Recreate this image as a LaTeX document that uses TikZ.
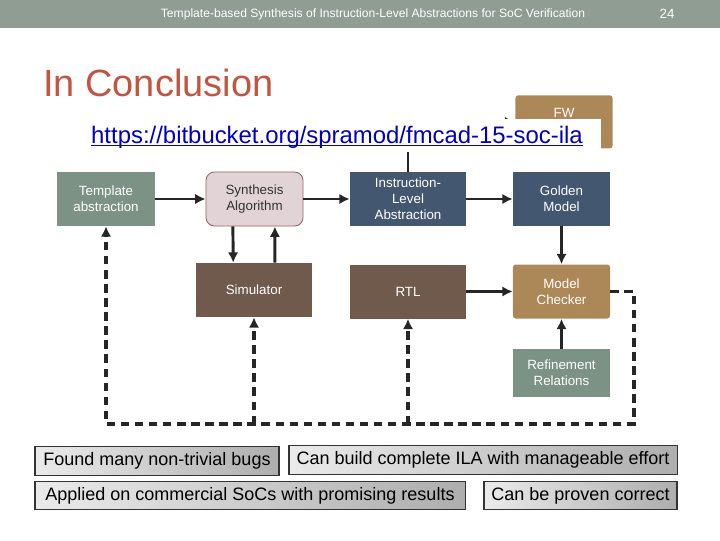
\documentclass[tikz,border=0pt]{standalone}
\usepackage{fontspec}
\setmainfont{Liberation Sans}
\usetikzlibrary{positioning, arrows.meta}

\definecolor{hdrgray}{RGB}{143,157,147}
\definecolor{titlered}{RGB}{196,84,64}
\definecolor{sagegreen}{RGB}{124,146,133}
\definecolor{slateblue}{RGB}{68,87,113}
\definecolor{umber}{RGB}{112,90,76}
\definecolor{tanbox}{RGB}{172,136,88}
\definecolor{blush}{RGB}{226,212,214}
\definecolor{linkblue}{RGB}{0,0,190}

\begin{document}
\begin{tikzpicture}[x=0.025cm, y=-0.025cm,
      blk/.style={rectangle, minimum width=2.425cm, minimum height=1.35cm,
                  align=center, inner sep=2pt, text=white,
                  font=\fontsize{9.5}{11.5}\selectfont},
      wideblk/.style={blk, minimum width=2.9cm},
      note/.style={rectangle, draw=black!80, line width=0.8pt,
                   left color=black!8, right color=black!32,
                   minimum height=0.71cm, inner sep=2pt,
                   font=\fontsize{12.8}{14}\selectfont},
      flow/.style={draw=black!85, line width=2.1pt,
                   -{Latex[length=2.6mm,width=2.6mm]}},
      fback/.style={draw=black!85, line width=2.3pt, dash pattern=on 6pt off 4pt,
                    -{Latex[length=2.6mm,width=2.6mm]}},
    ]
    \useasboundingbox (0,0) rectangle (720,540);

    % ---- header ----------------------------------------------------
    \fill[hdrgray] (0,0) rectangle (720,28);
    \node[text=white, font=\fontsize{8.6}{9}\selectfont] (hdr) at (373,14)
      {Template-based Synthesis of Instruction-Level Abstractions for SoC Verification};
    \node[text=white, font=\fontsize{9.5}{11}\selectfont] (pg) at (667,14) {24};
    \node[anchor=west, text=titlered, inner sep=0pt,
          font=\fontsize{27}{30}\selectfont] (title) at (43,83) {In Conclusion};

    % ---- top row ---------------------------------------------------
    \node[blk, fill=sagegreen] (tmpl) at (106,199) {Template\\abstraction};
    \node[blk, fill=blush, draw=black!70!red!60, line width=0.6pt,
          rounded corners=6pt, text=black!80] (synth) at (254.5,199)
      {Synthesis\\Algorithm};
    \node[wideblk, fill=slateblue] (ila) at (408,199)
      {Instruction-\\Level\\Abstraction};
    \node[blk, fill=slateblue] (gold) at (561.5,199) {Golden\\Model};

    % ---- second row ------------------------------------------------
    \node[wideblk, fill=umber] (sim) at (254,290) {Simulator};
    \node[wideblk, fill=umber] (rtl) at (408,291.5) {RTL};
    \node[blk, fill=tanbox, rounded corners=2pt] (mc) at (561.5,291.5)
      {Model\\Checker};
    \node[blk, fill=sagegreen, minimum height=1.2cm] (ref) at (561.5,373)
      {Refinement\\Relations};

    % ---- firmware, half hidden by the link -------------------------
    \node[blk, fill=tanbox, rounded corners=2pt, minimum height=1.33cm,
          anchor=north] (fw) at (564,95) {};
    \node[text=white, font=\fontsize{9.5}{11}\selectfont] (fwlab) at (564,113) {FW};
    \draw[flow] (ila.north) |- (fw.west);
    \node[fill=white, minimum width=12.9cm, minimum height=0.83cm,
          inner sep=0pt] (urlbox) at (343,135.5) {};
    \node[text=linkblue, inner sep=0pt, font=\fontsize{17}{19}\selectfont]
      (url) at (337,137) {https://bitbucket.org/spramod/fmcad-15-soc-ila};
    \draw[linkblue, line width=0.9pt] ([yshift=-1.6pt]url.base west)
      -- ([yshift=-1.6pt]url.base east);

    % ---- forward flow ----------------------------------------------
    \draw[flow] (tmpl) -- (synth);
    \draw[flow] (synth) -- (ila);
    \draw[flow] (ila) -- (gold);
    \draw[flow] ([xshift=-0.54cm]synth.south) -- ([xshift=-0.52cm]sim.north);
    \draw[flow] ([xshift=0.52cm]sim.north) -- ([xshift=0.51cm]synth.south);
    \draw[flow] (gold) -- (mc);
    \draw[flow] (rtl) -- (mc);
    \draw[flow] (ref) -- (mc);

    % ---- feedback loop ---------------------------------------------
    \coordinate (cr) at (634,424);
    \coordinate (cl) at (106,424);
    \draw[fback] (mc.east) -| (cr) -- (cl) -- (tmpl.south);
    \draw[fback] (sim.south |- cl) -- (sim.south);
    \draw[fback] (rtl.south |- cl) -- (rtl.south);

    % ---- results ---------------------------------------------------
    \node[note, minimum width=6.1cm] (bugs) at (157,461)
      {Found many non-trivial bugs};
    \node[note, minimum width=9.7cm] (effort) at (483,460)
      {Can build complete ILA with manageable effort};
    \node[note, minimum width=10.75cm] (socs) at (250,495.5)
      {Applied on commercial SoCs with promising results};
    \node[note, minimum width=4.825cm] (proof) at (580.5,495.5)
      {Can be proven correct};

  \end{tikzpicture}
\end{document}
